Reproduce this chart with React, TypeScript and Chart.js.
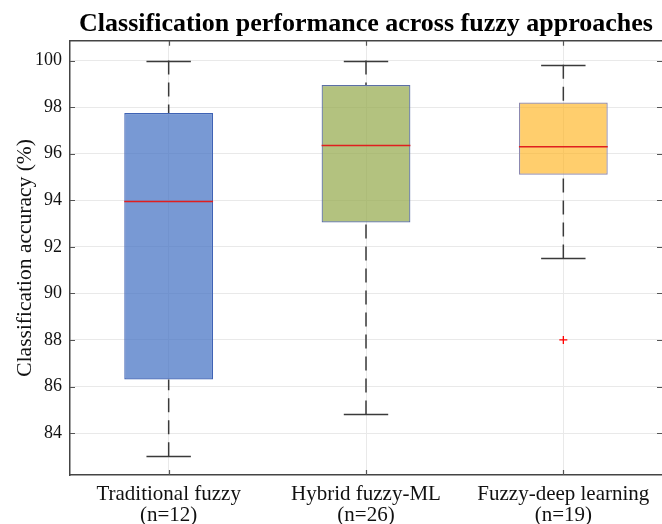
import React, { useEffect, useRef } from "react";
import { Chart, registerables } from "chart.js";

Chart.register(...registerables);

const categories: string[][] = [
  ["Traditional fuzzy", "(n=12)"],
  ["Hybrid fuzzy-ML", "(n=26)"],
  ["Fuzzy-deep learning", "(n=19)"],
];
const q1 = [86.3, 93.05, 95.1];
const q3 = [97.75, 98.95, 98.2];
const medians = [93.95, 96.35, 96.3];
const whiskerLow = [83.0, 84.8, 91.5];
const whiskerHigh = [100.0, 100.0, 99.82];
const outliers: (number | null)[] = [null, null, 88.0];
const yTicks = [84, 86, 88, 90, 92, 94, 96, 98, 100];

const boxFills = ["rgba(68,114,196,0.72)", "rgba(150,170,78,0.72)", "rgba(255,180,30,0.65)"];
const boxBorders = ["#3f63b5", "#5b6fa6", "#8c88b0"];

const FONT = "'Liberation Serif', 'Times New Roman', serif";

const boxPlugin = {
  id: "boxExtras",
  afterDatasetsDraw(chart: any) {
    const { ctx, chartArea, scales } = chart;
    const xs = scales.x;
    const ys = scales.y;
    const meta = chart.getDatasetMeta(0);
    ctx.save();
    for (let i = 0; i < q1.length; i++) {
      const cx = xs.getPixelForValue(i);
      const bar = meta.data[i];
      const bw = bar ? bar.width : 88;
      const capHalf = bw / 4;
      // whiskers
      ctx.strokeStyle = "#3a3a3a";
      ctx.lineWidth = 1.5;
      ctx.setLineDash([14, 8]);
      ctx.beginPath();
      ctx.moveTo(cx, ys.getPixelForValue(whiskerHigh[i]));
      ctx.lineTo(cx, ys.getPixelForValue(q3[i]));
      ctx.stroke();
      ctx.beginPath();
      ctx.moveTo(cx, ys.getPixelForValue(whiskerLow[i]));
      ctx.lineTo(cx, ys.getPixelForValue(q1[i]));
      ctx.stroke();
      ctx.setLineDash([]);
      // caps
      ctx.beginPath();
      const yh = Math.round(ys.getPixelForValue(whiskerHigh[i])) + 0.5;
      const yl = Math.round(ys.getPixelForValue(whiskerLow[i])) + 0.5;
      ctx.moveTo(cx - capHalf, yh);
      ctx.lineTo(cx + capHalf, yh);
      ctx.moveTo(cx - capHalf, yl);
      ctx.lineTo(cx + capHalf, yl);
      ctx.stroke();
      // median
      ctx.strokeStyle = "#e01f1f";
      ctx.lineWidth = 1.6;
      const ym = ys.getPixelForValue(medians[i]);
      ctx.beginPath();
      ctx.moveTo(cx - bw / 2, ym);
      ctx.lineTo(cx + bw / 2, ym);
      ctx.stroke();
    }
    // frame: top border and inward ticks
    ctx.strokeStyle = "#444";
    ctx.lineWidth = 1.5;
    ctx.beginPath();
    ctx.moveTo(chartArea.left, chartArea.top);
    ctx.lineTo(chartArea.right, chartArea.top);
    ctx.stroke();
    ctx.strokeStyle = "#555";
    ctx.lineWidth = 1.2;
    ctx.beginPath();
    for (let i = 0; i < categories.length; i++) {
      const cx = Math.round(xs.getPixelForValue(i)) + 0.5;
      ctx.moveTo(cx, chartArea.bottom);
      ctx.lineTo(cx, chartArea.bottom - 5);
      ctx.moveTo(cx, chartArea.top);
      ctx.lineTo(cx, chartArea.top + 5);
    }
    for (const t of yTicks) {
      const y = Math.round(ys.getPixelForValue(t)) + 0.5;
      ctx.moveTo(chartArea.left, y);
      ctx.lineTo(chartArea.left + 5, y);
      ctx.moveTo(chartArea.right, y);
      ctx.lineTo(chartArea.right - 5, y);
    }
    ctx.stroke();
    ctx.restore();
  },
};

export default function App() {
  const canvasRef = useRef<HTMLCanvasElement | null>(null);

  useEffect(() => {
    if (!canvasRef.current) return;
    const chart = new Chart(canvasRef.current, {
      type: "bar",
      data: {
        labels: categories as any,
        datasets: [
          {
            type: "bar",
            data: q1.map((v, i) => [v, q3[i]]) as any,
            backgroundColor: boxFills,
            borderColor: boxBorders,
            borderWidth: 1.2,
            borderSkipped: false,
            barPercentage: 0.45,
            categoryPercentage: 1,
          } as any,
          {
            type: "line",
            data: outliers as any,
            showLine: false,
            pointStyle: "cross",
            pointRadius: 4,
            pointBorderColor: "#ff0000",
            pointBackgroundColor: "#ff0000",
            pointBorderWidth: 1.3,
          } as any,
        ],
      },
      options: {
        responsive: false,
        animation: false,
        devicePixelRatio: 1,
        layout: { autoPadding: false, padding: { left: 0, right: -2, top: 0, bottom: 0 } },
        plugins: {
          legend: { display: false },
          tooltip: { enabled: false },
          title: {
            display: true,
            text: "Classification performance across fuzzy approaches",
            fullSize: false,
            color: "#000",
            font: { family: FONT, size: 26, weight: "bold", lineHeight: 1.2 },
            padding: { top: 8.5, bottom: 1.1 },
          },
        },
        scales: {
          x: {
            type: "category",
            offset: true,
            grid: { offset: false, color: "#e9e9e9", drawTicks: false, lineWidth: 1 },
            border: { display: true, color: "#444", width: 1.5 },
            ticks: {
              color: "#111",
              font: { family: FONT, size: 21, lineHeight: 1.0 },
              padding: 9,
              maxRotation: 0,
              autoSkip: false,
            },
            afterFit: (s: any) => {
              s.height = 49;
              s.paddingLeft = 0;
              s.paddingRight = 0;
            },
          },
          y: {
            type: "linear",
            min: 82.2,
            max: 100.85,
            grid: { color: "#e9e9e9", drawTicks: false, lineWidth: 1 },
            border: { display: true, color: "#444", width: 1.5 },
            ticks: {
              color: "#111",
              font: { family: FONT, size: 18 },
              padding: 8,
            },
            afterBuildTicks: (s: any) => {
              s.ticks = yTicks.map((v) => ({ value: v }));
            },
            title: {
              display: true,
              text: "Classification accuracy (%)",
              color: "#111",
              font: { family: FONT, size: 21.5 },
              padding: { top: 12, bottom: 0 },
            },
            afterFit: (s: any) => {
              s.width = 70;
              s.paddingTop = 0;
              s.paddingBottom = 0;
            },
          },
        },
      },
      plugins: [boxPlugin],
    });
    return () => chart.destroy();
  }, []);

  return (
    <div style={{ position: "absolute", left: 0, top: 0, width: 662, height: 524 }}>
      <canvas ref={canvasRef} width={662} height={524} style={{ display: "block" }} />
    </div>
  );
}
